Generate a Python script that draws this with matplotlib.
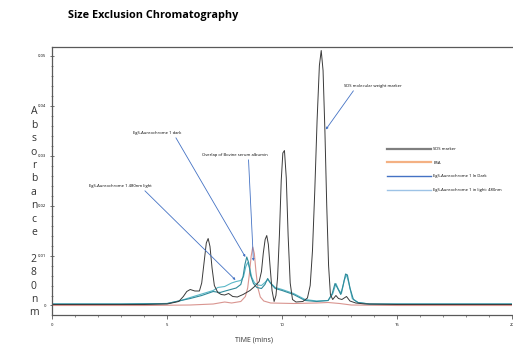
import numpy as np
import matplotlib.pyplot as plt
from matplotlib.lines import Line2D

plt.rcParams['font.family'] = ['Open Sans', 'DejaVu Sans']

# SDS molecular weight marker
t_sds = [0, 2, 4, 5.0, 5.5, 5.7, 5.85, 6.0, 6.2, 6.4, 6.5, 6.6, 6.7, 6.78, 6.86, 6.95, 7.05, 7.2, 7.35,
         7.5, 7.67, 7.85, 8.05, 8.3, 8.6, 8.8, 9.0, 9.1, 9.18, 9.26, 9.33, 9.4, 9.48, 9.56, 9.65, 9.73,
         9.8, 9.88, 9.96, 10.03, 10.1, 10.18, 10.26, 10.35, 10.45, 10.6, 10.9, 11.1, 11.22, 11.32,
         11.42, 11.52, 11.62, 11.7, 11.78, 11.86, 11.94, 12.02, 12.1, 12.2, 12.34, 12.45, 12.6, 12.8,
         12.95, 13.2, 13.6, 15, 20]
v_sds = [0.0002, 0.0002, 0.0002, 0.0003, 0.0008, 0.0018, 0.0028, 0.0032, 0.0029, 0.0029, 0.0045,
         0.0085, 0.0125, 0.0134, 0.0118, 0.0075, 0.004, 0.0026, 0.0022, 0.0021, 0.0024, 0.0018, 0.0017,
         0.0022, 0.003, 0.0038, 0.0048, 0.0068, 0.0105, 0.0132, 0.014, 0.0122, 0.0075, 0.003, 0.0008,
         0.002, 0.0055, 0.014, 0.025, 0.0305, 0.031, 0.0255, 0.014, 0.0045, 0.0012, 0.0007, 0.0008,
         0.0015, 0.004, 0.011, 0.023, 0.037, 0.048, 0.051, 0.047, 0.035, 0.02, 0.008, 0.0022, 0.0012,
         0.002, 0.0014, 0.0012, 0.0018, 0.0009, 0.0005, 0.0003, 0.0002, 0.0002]

# BSA
t_bsa = [0, 4, 6, 7.0, 7.5, 7.8, 8.2, 8.4, 8.5, 8.58, 8.65, 8.72, 8.79, 8.86, 8.94, 9.05, 9.2, 9.5, 10.5,
         11.5, 12.0, 12.5, 13.0, 15, 20]
v_bsa = [0.0, 0.0, 0.0001, 0.0003, 0.0007, 0.0005, 0.0008, 0.0018, 0.0035, 0.0065, 0.0098, 0.0117,
         0.0104, 0.0068, 0.0036, 0.0017, 0.0009, 0.0005, 0.0004, 0.0005, 0.0006, 0.0004, 0.0001, 0.0, 0.0]

# EgS-Aureochrome 1 in dark
t_dark = [0, 3, 5.0, 5.6, 6.0, 6.5, 7.0, 7.3, 7.6, 8.0, 8.2, 8.3, 8.38, 8.46, 8.54, 8.63, 8.75, 8.9,
          9.1, 9.25, 9.37, 9.5, 9.7, 10.0, 10.5, 11.0, 11.5, 12.0, 12.18, 12.3, 12.42, 12.55, 12.66,
          12.76, 12.84, 12.95, 13.1, 13.3, 13.8, 15, 20]
v_dark = [0.0003, 0.0003, 0.0004, 0.001, 0.0014, 0.002, 0.0028, 0.0026, 0.003, 0.0035, 0.0042, 0.0058,
          0.0082, 0.0097, 0.0086, 0.006, 0.0044, 0.0036, 0.0034, 0.0042, 0.0054, 0.0044, 0.0034,
          0.003, 0.0022, 0.001, 0.0008, 0.001, 0.0024, 0.0044, 0.0034, 0.0022, 0.0042, 0.0063, 0.0061,
          0.0035, 0.0012, 0.0006, 0.0003, 0.0003, 0.0003]

# EgS-Aureochrome 1 in light 480nm
t_light = [0, 3, 5.0, 5.6, 6.0, 6.5, 7.0, 7.2, 7.5, 7.8, 8.0, 8.2, 8.32, 8.42, 8.5, 8.58, 8.68, 8.8,
           8.95, 9.1, 9.25, 9.37, 9.5, 9.7, 10.0, 10.5, 11.0, 11.5, 12.0, 12.2, 12.34, 12.45, 12.58,
           12.7, 12.8, 12.9, 13.05, 13.3, 13.8, 15, 20]
v_light = [0.0003, 0.0003, 0.0004, 0.001, 0.0016, 0.0023, 0.003, 0.0036, 0.0038, 0.0045, 0.0048, 0.005,
           0.0058, 0.0078, 0.0086, 0.0076, 0.0056, 0.0045, 0.0041, 0.004, 0.0046, 0.0052, 0.0045,
           0.0036, 0.0032, 0.0024, 0.0012, 0.0009, 0.001, 0.0023, 0.0044, 0.0032, 0.0024, 0.005,
           0.0062, 0.0045, 0.0014, 0.0006, 0.0003, 0.0003, 0.0003]

labels = ['SDS marker', 'BSA', 'EgS-Aureochrome 1 In Dark', 'EgS-Aureochrome 1 in light: 480nm']

fig = plt.figure(figsize=(5.13, 3.46), dpi=100)
ax = fig.add_axes([0.102, 0.0896, 0.896, 0.7745])

ax.plot(t_bsa, v_bsa, color='#d99590', lw=0.8)
ax.plot(t_light, v_light, color='#5bb8c8', lw=0.8)
ax.plot(t_dark, v_dark, color='#2f8a9a', lw=0.8)
ax.plot(t_sds, v_sds, color='#3a3a3a', lw=0.7)

ax.set_xlim(0, 20)
ax.set_ylim(-0.0019, 0.0517)
ax.set_xticks([0, 5, 10, 15, 20])
ax.set_xticks(np.arange(0, 21, 1), minor=True)
ax.set_yticks([0, 0.01, 0.02, 0.03, 0.04, 0.05])
ax.set_yticklabels(['0', '0.01', '0.02', '0.03', '0.04', '0.05'])
ax.set_yticks(np.arange(0, 0.0517, 0.002), minor=True)
ax.tick_params(axis='both', which='major', labelsize=3, length=3, width=0.6, color='#595959', pad=3)
ax.tick_params(axis='both', which='minor', length=1.5, width=0.5, color='#595959')
ax.tick_params(axis='y', which='both', direction='inout')
ax.spines['right'].set_visible(False)
for s in ['left', 'bottom', 'top']:
    ax.spines[s].set_color('#595959')
    ax.spines[s].set_linewidth(0.9)

fig.text(0.133, 0.955, 'Size Exclusion Chromatography', fontsize=7.8, fontweight='bold', ha='left', va='center')
fig.text(0.495, 0.017, 'TIME (mins)', fontsize=5, ha='center', va='center', color='#333333')
fig.text(0.066, 0.386, '\n'.join('Absorbance 280nm'), fontsize=7.5, ha='center',
         va='center', linespacing=1.3, color='#333333')

arrow = dict(arrowstyle='-|>', color='#4472c4', lw=0.6, mutation_scale=3, shrinkA=0, shrinkB=0)
ax.annotate('SDS molecular weight marker', xy=(11.9, 0.0352), xytext=(13.94, 0.0439), fontsize=3,
            ha='center', va='center', arrowprops=dict(arrow, relpos=(0.2, 0)))
ax.annotate('EgS-Aureochrome 1 dark', xy=(8.4, 0.0097), xytext=(4.57, 0.0345), fontsize=3,
            ha='center', va='center', arrowprops=dict(arrow, relpos=(0.85, 0)))
ax.annotate('Overlap of Bovine serum albumin', xy=(8.75, 0.0089), xytext=(7.96, 0.0301), fontsize=3,
            ha='center', va='center', arrowprops=dict(arrow, relpos=(0.7, 0)))
ax.annotate('EgS-Aureochrome 1 480nm light', xy=(7.97, 0.0051), xytext=(2.95, 0.0239), fontsize=3,
            ha='center', va='center', arrowprops=dict(arrow, relpos=(0.85, 0)))

handles = [Line2D([], [], color='#7f7f7f', lw=1.6),
           Line2D([], [], color='#f4b183', lw=1.6),
           Line2D([], [], color='#4472c4', lw=1.0),
           Line2D([], [], color='#9dc3e6', lw=1.0)]
ax.legend(handles, labels, loc='upper left', bbox_to_anchor=(0.72, 0.64), frameon=False, fontsize=3,
          handlelength=10.5, labelspacing=2.3, handletextpad=0.6)

fig.savefig('out.png', dpi=100)
